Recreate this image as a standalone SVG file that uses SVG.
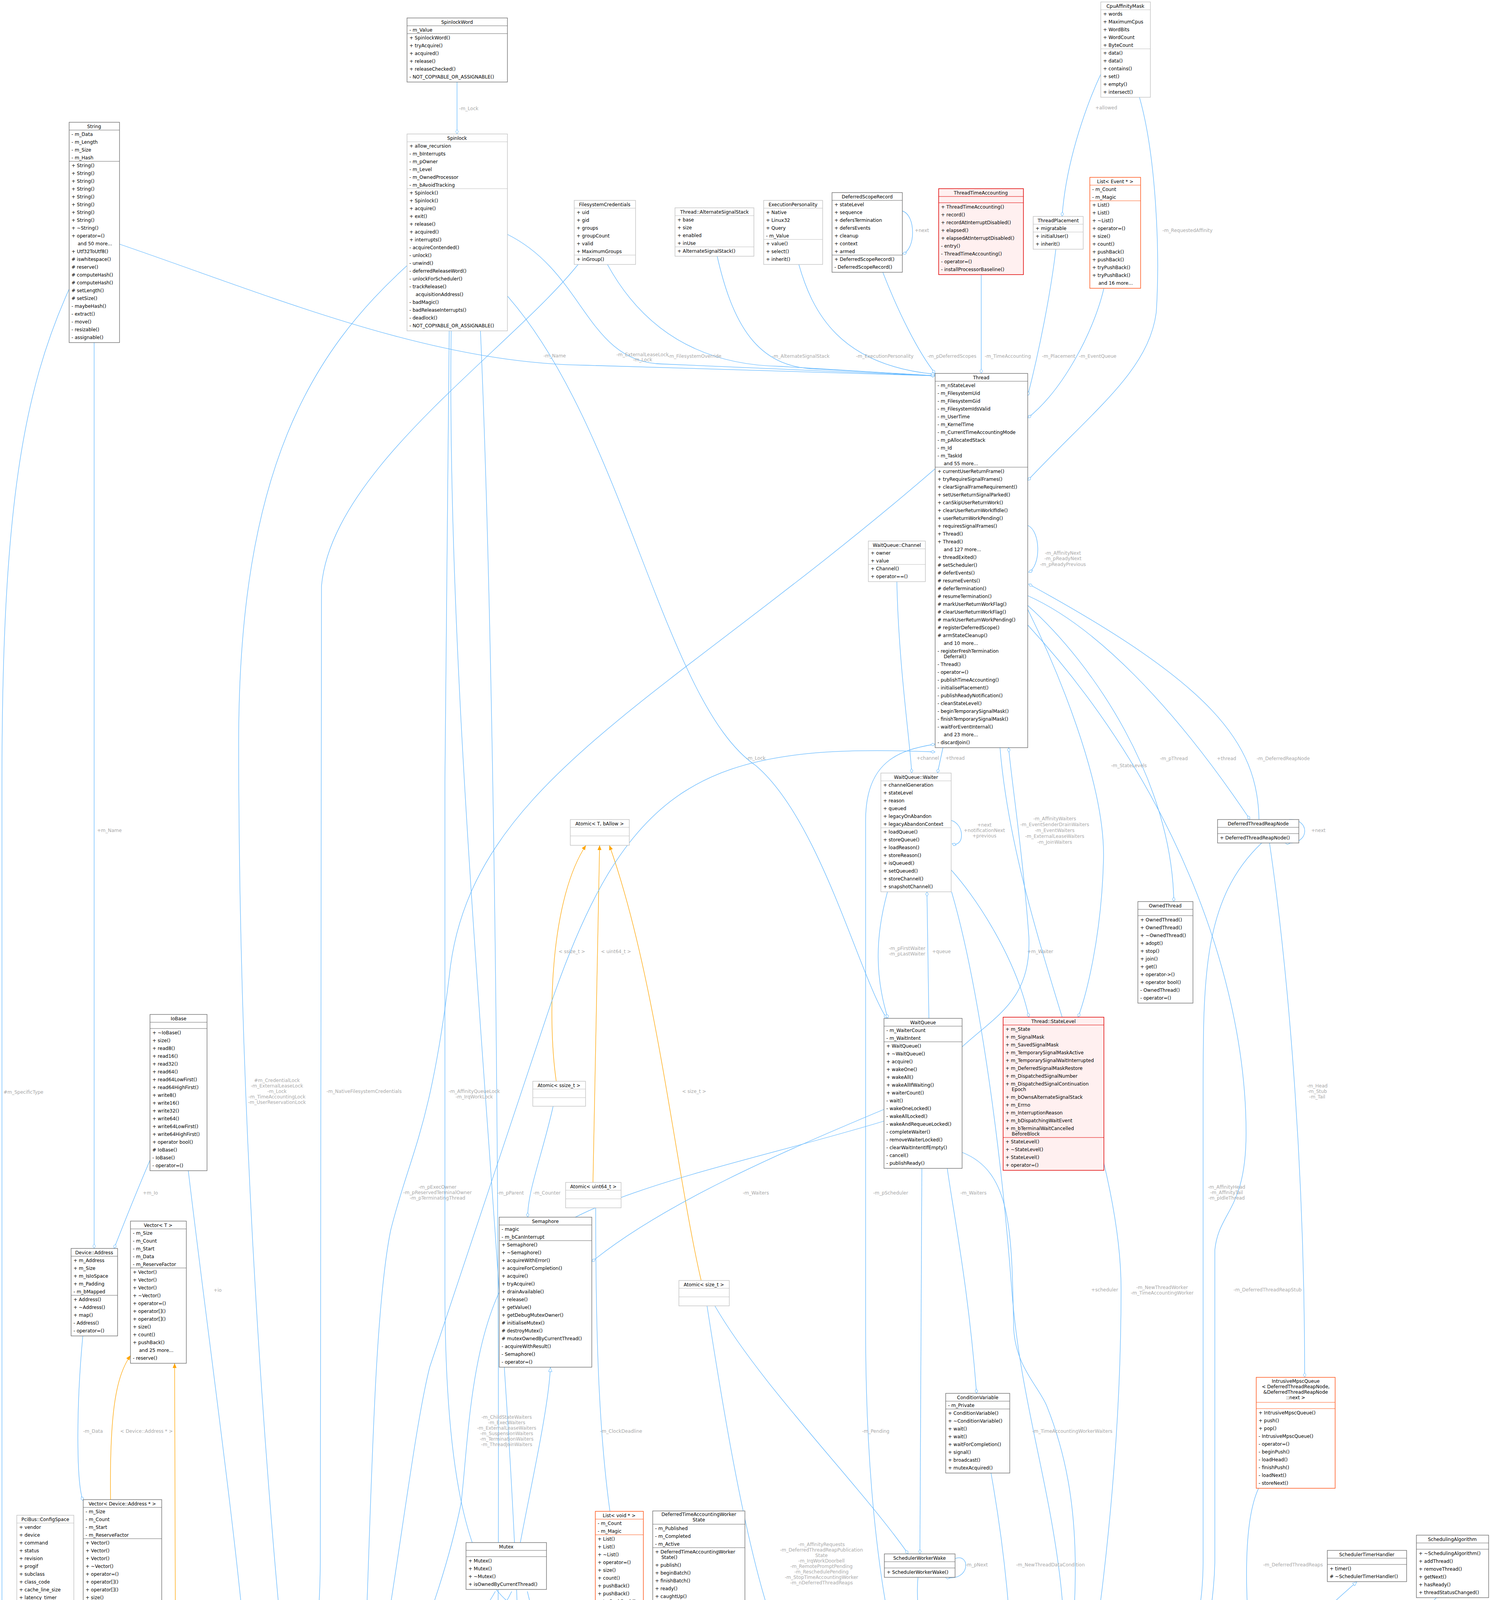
<svg xmlns="http://www.w3.org/2000/svg" width="3817" height="7125" viewBox="0 0 3817 7125">
<style>
.b{fill:#fff;stroke:#666;stroke-width:1.3}
.lb{fill:#fff;stroke:#bdbdbd;stroke-width:1.3}
.r{fill:#fff0f0;stroke:#e00000;stroke-width:1.5}
.o{fill:#fff;stroke:#ff5a1f;stroke-width:1.5}
.g{fill:#999;stroke:#666;stroke-width:1.3}
.s{stroke:#666;stroke-width:1}
.sl{stroke:#bdbdbd;stroke-width:1}
.sr{stroke:#e00000;stroke-width:1}
.so{stroke:#ff5a1f;stroke-width:1}
text{font-family:"DejaVu Sans","Liberation Sans",sans-serif;font-size:12px;fill:#000}
.h{text-anchor:middle}
.l{fill:#a8a8a8;text-anchor:middle}
.e{fill:none;stroke:#63b8ff;stroke-width:1.3}
.oe{fill:none;stroke:#ffa500;stroke-width:1.3}
</style>
<defs>
<marker id="d" viewBox="0 0 12 8" refX="12" refY="4" markerWidth="12" markerHeight="8" orient="auto" markerUnits="userSpaceOnUse"><path d="M0.5,4 L6,0.5 L11.5,4 L6,7.5z" fill="#fff" stroke="#63b8ff"/></marker>
<marker id="t" viewBox="0 0 12 10" refX="12" refY="5" markerWidth="12" markerHeight="10" orient="auto" markerUnits="userSpaceOnUse"><path d="M0.5,0.5 L11.5,5 L0.5,9.5z" fill="#fff" stroke="#63b8ff"/></marker>
<marker id="ot" viewBox="0 0 12 10" refX="12" refY="5" markerWidth="12" markerHeight="10" orient="auto" markerUnits="userSpaceOnUse"><path d="M0,0 L12,5 L0,10z" fill="#ffa500"/></marker>
</defs>
<rect width="3817" height="7125" fill="#fff"/>

<g id="connectors">
<path class="e" marker-end="url(#d)" d="M1170,210 L1170,343"/><text class="l" x="1200" y="282">-m_Lock</text>
<path class="e" marker-end="url(#d)" d="M306,625 C700,760 1100,930 1500,935 L2394,962"/><text class="l" x="1420" y="915">-m_Name</text>
<path class="e" marker-end="url(#d)" d="M177,740 C60,1000 5,1300 5,2000 L5,4100 C5,4250 30,4330 35,4360"/><text class="l" x="60" y="2800">#m_SpecificType</text>
<path class="e" marker-end="url(#d)" d="M241,877 L241,3196"/><text class="l" x="280" y="2130">+m_Name</text>
<path class="e" marker-end="url(#d)" d="M384,2970 C350,3050 310,3150 292,3196"/><text class="l" x="385" y="3058">+m_Io</text>
<path class="e" marker-end="url(#d)" d="M482,2997 C530,3400 600,3900 627,4208"/><text class="l" x="557" y="3307">+io</text>
<path class="e" marker-end="url(#d)" d="M212,3420 C195,3600 195,3800 213,3842"/><text class="l" x="238" y="3668">-m_Data</text>
<path class="oe" marker-end="url(#ot)" d="M283,3839 C280,3600 300,3520 334,3470"/><text class="l" x="375" y="3668">&lt; Device::Address * &gt;</text>
<path class="oe" marker-end="url(#ot)" d="M291,5539 C400,5450 450,5350 452,5200 L447,3490"/><text class="l" x="510" y="4258">&lt; Device * &gt;</text>
<path class="e" marker-end="url(#d)" d="M278,4183 C265,4250 255,4320 242,4360"/><text class="l" x="327" y="4258">#m_Addresses</text>
<path class="e" marker-end="url(#d)" d="M118,4139 L123,4360"/><text class="l" x="187" y="4258">#m_ConfigHeader</text>
<path class="e" marker-end="url(#d)" d="M261,4718 C295,4740 295,4830 263,4840"/><text class="l" x="360" y="4772">#m_PhysicalFunction</text><text class="l" x="360" y="4786">#m_Root</text><text class="l" x="360" y="4800">#m_pParent</text>
<path class="e" marker-end="url(#d)" d="M116,5240 C120,5330 135,5400 152,5435"/><text class="l" x="158" y="5302">-m_Data</text>
<path class="e" marker-end="url(#d)" d="M204,5435 L186,5240"/><text class="l" x="239" y="5302">#m_Children</text>
<path class="e" marker-end="url(#d)" d="M261,5040 C350,5200 420,5300 600,5322 C750,5335 820,5320 839,5345"/><text class="l" x="468" y="5302">-m_Device</text>
<path class="e" marker-end="url(#d)" d="M600,4302 C540,4600 500,5000 540,5150 C580,5290 800,5280 839,5340"/><text class="l" x="597" y="4764">-m_Common</text><text class="l" x="597" y="4778">-m_DeviceConfig</text><text class="l" x="597" y="4792">-m_Isr</text><text class="l" x="597" y="4806">-m_Notify</text>
<path class="e" marker-end="url(#d)" d="M1156,4900 C1120,5100 1050,5200 1010,5250 C1000,5300 998,5340 995,5378"/><text class="l" x="1107" y="5302">-m_Original</text>
<path class="e" marker-end="url(#d)" d="M924,5879 L925,5972"/><text class="l" x="972" y="5925">-m_Transport</text>
<path class="e" marker-end="url(#d)" d="M861,5990 C815,5960 805,5920 838,5830"/><text class="l" x="858" y="5925">-m_Queues</text>
<path class="e" marker-end="url(#d)" d="M1103,5829 C1080,5900 1040,5940 1016,6010"/><text class="l" x="1118" y="5900">-m_Available</text><text class="l" x="1118" y="5914">-m_Descriptors</text><text class="l" x="1118" y="5928">-m_Used</text>
<path class="e" marker-end="url(#d)" d="M1204,5829 C1210,6000 1210,6550 1083,6700"/><text class="l" x="1243" y="6234">-m_Events</text>
<path class="e" marker-end="url(#d)" d="M995,5690 C1050,5900 1065,6200 1065,6400 C1065,6500 1060,6550 1047,6574"/><text class="l" x="1115" y="6234">-m_Transport</text>
<path class="e" marker-end="url(#d)" d="M935,6496 L940,6574"/><text class="l" x="990" y="6530">-m_EventQueue</text><text class="l" x="990" y="6544">-m_StatusQueue</text>
<path class="e" marker-end="url(#d)" d="M1500,5661 L1488,6204"/><text class="l" x="1520" y="5925">+data</text>
<path class="e" marker-end="url(#d)" d="M1463,6264 C1440,6500 1300,6700 1083,6791"/><text class="l" x="1400" y="6534">-m_Slots</text>
<path class="e" marker-end="url(#t)" d="M731,6172 L731,5645"/>
<path class="e" marker-end="url(#t)" d="M920,6720 C850,6500 780,6400 760,6292"/>
<path class="e" marker-end="url(#d)" d="M261,5198 C330,5400 420,5800 480,6200 C540,6600 800,6800 920,6833"/><text class="l" x="440" y="5925">-m_Pci</text>
<path class="e" marker-end="url(#d)" d="M1155,847 C1140,2000 1330,3500 1333,4500 L1333,6500 C1333,6650 1200,6700 1083,6735"/><text class="l" x="1370" y="5606">-m_Lock</text>
<path class="e" marker-end="url(#d)" d="M1230,847 C1280,2000 1290,4500 1256,5270 C1250,5300 1090,5310 1075,5340 C1040,5450 1020,5700 1012,5972"/><text class="l" x="1227" y="5302">-m_Lock</text>
<path class="e" marker-end="url(#d)" d="M1480,677 C1300,900 850,1200 823,1500 L820,4000 C818,4200 795,4300 791,4332"/><text class="l" x="932" y="2798">-m_NativeFilesystemCredentials</text>
<path class="e" marker-end="url(#d)" d="M1042,680 C800,900 611,1200 611,1900 C611,3000 700,4000 735,4332"/><text class="l" x="709" y="2770">#m_CredentialLock</text><text class="l" x="709" y="2784">-m_ExternalLeaseLock</text><text class="l" x="709" y="2798">-m_Lock</text><text class="l" x="709" y="2812">-m_TimeAccountingLock</text><text class="l" x="709" y="2826">-m_UserReservationLock</text>
<path class="e" marker-end="url(#d)" d="M1299,600 C1500,700 1500,930 1700,932 L2394,962"/><text class="l" x="1645" y="912">-m_ExternalLeaseLock</text><text class="l" x="1645" y="925">-m_Lock</text>
<path class="e" marker-end="url(#d)" d="M1299,758 C1600,1100 1700,1800 1935,1960 C2100,2100 2200,2500 2270,2607"/><text class="l" x="1935" y="1945">-m_Lock</text>
<path class="e" marker-end="url(#d)" d="M1555,677 C1650,850 1800,935 2000,938 L2394,962"/><text class="l" x="1778" y="916">-m_FilesystemOverride</text>
<path class="e" marker-end="url(#d)" d="M1836,656 C1880,850 1950,945 2100,945 L2394,962"/><text class="l" x="2050" y="916">-m_AlternateSignalStack</text>
<path class="e" marker-end="url(#d)" d="M2045,677 C2080,800 2150,935 2394,958"/><text class="l" x="2265" y="916">-m_ExecutionPersonality</text>
<path class="e" marker-end="url(#d)" d="M2260,697 C2300,800 2350,900 2394,956"/><text class="l" x="2437" y="916">-m_pDeferredScopes</text>
<path class="e" marker-end="url(#d)" d="M2310,540 C2345,550 2345,640 2310,650"/><text class="l" x="2360" y="594">+next</text>
<path class="e" marker-end="url(#d)" d="M2512,703 L2512,956"/><text class="l" x="2580" y="916">-m_TimeAccounting</text>
<path class="e" marker-end="url(#d)" d="M2703,638 C2690,750 2660,900 2631,1013"/><text class="l" x="2710" y="916">-m_Placement</text>
<path class="e" marker-end="url(#d)" d="M2818,190 C2790,250 2730,400 2719,554"/><text class="l" x="2832" y="280">+allowed</text>
<path class="e" marker-end="url(#d)" d="M2917,249 C2960,400 2970,650 2960,800 C2940,950 2800,1050 2631,1230"/><text class="l" x="3040" y="594">-m_RequestedAffinity</text>
<path class="e" marker-end="url(#d)" d="M2826,738 C2800,850 2720,1000 2631,1070"/><text class="l" x="2810" y="916">-m_EventQueue</text>
<path class="e" marker-end="url(#d)" d="M2631,1345 C2665,1360 2665,1450 2633,1465"/><text class="l" x="2721" y="1420">-m_AffinityNext</text><text class="l" x="2721" y="1434">-m_pReadyNext</text><text class="l" x="2721" y="1449">-m_pReadyPrevious</text>
<path class="e" marker-end="url(#d)" d="M2631,1525 C2800,1600 3000,1800 3200,2098"/><text class="l" x="3140" y="1946">+thread</text>
<path class="e" marker-end="url(#d)" d="M3223,2098 C3220,1900 3100,1750 2633,1495"/><text class="l" x="3285" y="1946">-m_DeferredReapNode</text>
<path class="e" marker-end="url(#d)" d="M3300,2098 C3355,2095 3355,2165 3290,2158"/><text class="l" x="3375" y="2130">+next</text>
<path class="e" marker-end="url(#d)" d="M2631,1550 C2800,1700 3000,2000 3005,2308"/><text class="l" x="3005" y="1946">-m_pThread</text>
<path class="e" marker-end="url(#d)" d="M2631,1560 C2700,1700 2830,2000 2825,2200 C2820,2400 2780,2550 2760,2604"/><text class="l" x="2890" y="1964">-m_StateLevels</text>
<path class="e" marker-end="url(#d)" d="M2414,1914 L2400,1979"/><text class="l" x="2445" y="1945">+thread</text>
<path class="e" marker-end="url(#d)" d="M2296,1489 C2300,1700 2330,1900 2334,1979"/><text class="l" x="2375" y="1945">+channel</text>
<path class="e" marker-end="url(#d)" d="M2435,2100 C2470,2110 2470,2170 2437,2160"/><text class="l" x="2520" y="2116">+next</text><text class="l" x="2520" y="2130">+notificationNext</text><text class="l" x="2520" y="2144">+previous</text>
<path class="e" marker-end="url(#d)" d="M2378,2607 L2373,2283"/><text class="l" x="2410" y="2440">+queue</text>
<path class="e" marker-end="url(#d)" d="M2272,2283 C2240,2400 2240,2500 2273,2607"/><text class="l" x="2322" y="2432">-m_pFirstWaiter</text><text class="l" x="2322" y="2446">-m_pLastWaiter</text>
<path class="e" marker-end="url(#d)" d="M2435,2227 C2500,2300 2600,2450 2634,2604"/><text class="l" x="2663" y="2440">+m_Waiter</text>
<path class="e" marker-end="url(#d)" d="M2463,2680 C2550,2600 2640,2560 2634,2400 C2620,2200 2590,2000 2582,1914"/><text class="l" x="2700" y="2100">-m_AffinityWaiters</text><text class="l" x="2700" y="2115">-m_EventSenderDrainWaiters</text><text class="l" x="2700" y="2130">-m_EventWaiters</text><text class="l" x="2700" y="2145">-m_ExternalLeaseWaiters</text><text class="l" x="2700" y="2160">-m_JoinWaiters</text>
<path class="e" marker-end="url(#d)" d="M2456,4700 C2300,4400 2216,4000 2216,3400 L2216,2100 C2216,1950 2300,1920 2394,1905"/><text class="l" x="2280" y="3058">-m_pScheduler</text>
<path class="e" marker-end="url(#d)" d="M2436,2283 C2500,2500 2560,2900 2590,3300 C2620,3700 2760,3950 2722,4457"/><text class="l" x="2828" y="3306">+scheduler</text>
<path class="e" marker-end="url(#d)" d="M2560,1914 C2600,2400 2870,2900 2870,3300 C2870,3800 2800,4300 2720,4700"/><text class="l" x="2975" y="3300">-m_NewThreadWorker</text><text class="l" x="2975" y="3314">-m_TimeAccountingWorker</text>
<path class="e" marker-end="url(#d)" d="M2631,1600 C3000,2000 3190,2500 3190,2900 C3190,3100 3120,3100 3110,3200 L3110,4000 C3100,4400 2850,4700 2720,4730"/><text class="l" x="3140" y="3043">-m_AffinityHead</text><text class="l" x="3140" y="3057">-m_AffinityTail</text><text class="l" x="3140" y="3071">-m_pIdleThread</text>
<path class="e" marker-end="url(#d)" d="M3230,2158 C3080,2300 3080,2500 3080,2800 L3080,4000 C3080,4300 2900,4600 2720,4720"/><text class="l" x="3245" y="3306">-m_DeferredThreadReapStub</text>
<path class="e" marker-end="url(#d)" d="M3250,2158 C3300,2500 3340,3000 3340,3526"/><text class="l" x="3372" y="2784">-m_Head</text><text class="l" x="3372" y="2798">-m_Stub</text><text class="l" x="3372" y="2812">-m_Tail</text>
<path class="e" marker-end="url(#d)" d="M3222,3810 C3180,3900 3190,4100 3200,4200 C3200,4500 2900,4700 2720,4750"/><text class="l" x="3310" y="4010">-m_DeferredThreadReaps</text>
<path class="e" marker-end="url(#t)" d="M2720,4760 C3000,4500 3300,4200 3474,4049"/>
<path class="e" marker-end="url(#d)" d="M3677,4090 C3500,4300 3100,4550 2720,4780"/><text class="l" x="3654" y="4257">-m_pSchedulingAlgorithm</text>
<path class="e" marker-end="url(#d)" d="M2537,3771 C2560,3900 2590,4100 2594,4355"/><text class="l" x="2689" y="4010">-m_NewThreadDataCondition</text>
<path class="e" marker-end="url(#d)" d="M2425,2991 C2440,3100 2480,3300 2500,3567"/><text class="l" x="2492" y="3058">-m_Waiters</text>
<path class="e" marker-end="url(#d)" d="M2463,2950 C2590,3000 2590,3150 2595,3400 C2600,3500 2660,3550 2680,3600 C2780,3850 2760,4100 2720,4450"/><text class="l" x="2745" y="3668">-m_TimeAccountingWorkerWaiters</text>
<path class="e" marker-end="url(#d)" d="M2445,3990 C2485,3975 2485,4050 2420,4038"/><text class="l" x="2500" y="4010">-m_pNext</text>
<path class="e" marker-end="url(#d)" d="M2350,4038 C2340,4150 2380,4300 2456,4565"/><text class="l" x="2470" y="4250">-m_TimeAccountingWorkerWake</text><text class="l" x="2470" y="4265">-m_pWorkerWakeHead</text>
<path class="e" marker-end="url(#d)" d="M2360,2991 L2355,3978"/><text class="l" x="2242" y="3668">-m_Pending</text>
<path class="e" marker-end="url(#d)" d="M1830,3343 C1950,3550 2200,3800 2325,3978"/>
<path class="e" marker-end="url(#d)" d="M1810,3343 C1850,3600 1900,3900 1960,4100 C2100,4250 2300,4300 2456,4600"/><text class="l" x="2103" y="3958">-m_AffinityRequests</text><text class="l" x="2103" y="3972">-m_DeferredThreadReapPublication</text><text class="l" x="2103" y="3986">State</text><text class="l" x="2103" y="4000">-m_IrqWorkDoorbell</text><text class="l" x="2103" y="4014">-m_RemotePromptPending</text><text class="l" x="2103" y="4028">-m_ReschedulePending</text><text class="l" x="2103" y="4042">-m_StopTimeAccountingWorker</text><text class="l" x="2103" y="4056">-m_nDeferredThreadReaps</text>
<path class="e" marker-end="url(#d)" d="M1592,4153 C1600,4300 1800,4400 2456,4770"/><text class="l" x="1720" y="4250">-m_DelayedNewThreadData</text><text class="l" x="1720" y="4264">-m_NewThreadData</text>
<path class="e" marker-end="url(#d)" d="M1811,4154 C1840,4300 1900,4400 2000,4450 C2200,4550 2350,4650 2456,4750"/><text class="l" x="1934" y="4257">-m_TimeAccountingState</text>
<path class="e" marker-end="url(#d)" d="M1525,3092 C1525,3700 1550,4250 1800,4400 C2100,4600 2300,4700 2456,4780"/><text class="l" x="1590" y="3668">-m_ClockDeadline</text>
<path class="oe" marker-end="url(#ot)" d="M1424,2768 C1400,2600 1410,2300 1500,2164"/><text class="l" x="1464" y="2440">&lt; ssize_t &gt;</text>
<path class="oe" marker-end="url(#ot)" d="M1518,3027 L1535,2164"/><text class="l" x="1577" y="2440">&lt; uint64_t &gt;</text>
<path class="oe" marker-end="url(#ot)" d="M1795,3278 C1730,3000 1680,2500 1560,2164"/><text class="l" x="1777" y="2798">&lt; size_t &gt;</text>
<path class="e" marker-end="url(#d)" d="M1416,2832 C1390,2950 1350,3050 1351,3116"/><text class="l" x="1400" y="3058">-m_Counter</text>
<path class="e" marker-end="url(#t)" d="M1332,3949 C1360,3800 1405,3600 1409,3500"/>
<path class="e" marker-end="url(#d)" d="M2263,2840 C2000,2950 1700,3080 1515,3230"/><text class="l" x="1935" y="3058">-m_Waiters</text>
<path class="e" marker-end="url(#d)" d="M2263,2870 C1900,2980 1500,3050 1350,3200 C1200,3350 1200,3700 1180,3850 C1130,4100 1000,4400 923,4570"/><text class="l" x="1297" y="3632">-m_ChildStateWaiters</text><text class="l" x="1297" y="3646">-m_ExecWaiters</text><text class="l" x="1297" y="3660">-m_ExternalLeaseWaiters</text><text class="l" x="1297" y="3674">-m_SuspensionWaiters</text><text class="l" x="1297" y="3688">-m_TerminationWaiters</text><text class="l" x="1297" y="3702">-m_ThreadJoinWaiters</text>
<path class="e" marker-end="url(#d)" d="M2394,1200 C1700,1800 1200,2000 1150,2500 C1100,2900 1050,2950 1000,3150 C950,3400 950,4000 923,4496"/><text class="l" x="1120" y="3043">-m_pExecOwner</text><text class="l" x="1120" y="3057">-m_pReservedTerminalOwner</text><text class="l" x="1120" y="3071">-m_pTerminatingThread</text>
<path class="e" marker-end="url(#d)" d="M923,4520 C1000,4200 1050,3700 1100,3500 C1200,3200 1300,2900 1400,2600 C1600,2000 1800,1900 2394,1925"/><text class="l" x="1307" y="3058">-m_pParent</text>
<path class="e" marker-end="url(#d)" d="M1268,4074 C1200,4200 1100,4200 950,4200 C700,4200 500,4300 261,4561"/><text class="l" x="1003" y="4256">#m_TreeLock</text>
<path class="e" marker-end="url(#d)" d="M1310,4074 C1250,4200 1100,4300 1060,4400 C1000,4500 950,4520 923,4540"/><text class="l" x="1176" y="4256">-m_FilesystemContextLock</text>
<path class="e" marker-end="url(#d)" d="M1350,4074 C1400,4300 1600,4500 2456,4790"/><text class="l" x="1440" y="4256">-m_NewThreadDataLock</text>
<path class="e" marker-end="url(#d)" d="M923,4724 C962,4740 962,4860 925,4870"/><text class="l" x="1016" y="4786">-m_pInitProcess</text><text class="l" x="1016" y="4800">-m_pParent</text><text class="l" x="1016" y="4814">-m_pVforkOwner</text>
<path class="e" marker-end="url(#d)" d="M1150,847 L1139,2000 L1139,3300 C1139,3700 1180,4000 1300,4100 C1700,4300 2200,4500 2456,4800"/><text class="l" x="1214" y="2798">-m_AffinityQueueLock</text><text class="l" x="1214" y="2812">-m_IrqWorkLock</text>
</g>

<g id="SpinlockWord"><rect class="b" x="1042" y="46" width="257" height="164"/><text class="h" x="1170" y="61">SpinlockWord</text><line class="s" x1="1042" y1="66" x2="1299" y2="66"/><text x="1048" y="81">- m_Value</text><line class="s" x1="1042" y1="86" x2="1299" y2="86"/><text x="1048" y="101"><tspan x="1048" dy="0">+ SpinlockWord()</tspan><tspan x="1048" dy="20">+ tryAcquire()</tspan><tspan x="1048" dy="20">+ acquired()</tspan><tspan x="1048" dy="20">+ release()</tspan><tspan x="1048" dy="20">+ releaseChecked()</tspan><tspan x="1048" dy="20">- NOT_COPYABLE_OR_ASSIGNABLE()</tspan></text></g>

<g id="Spinlock"><rect class="lb" x="1042" y="343" width="257" height="504"/><text class="h" x="1170" y="358">Spinlock</text><line class="sl" x1="1042" y1="363" x2="1299" y2="363"/><text x="1048" y="378"><tspan x="1048" dy="0">+ allow_recursion</tspan><tspan x="1048" dy="20">- m_bInterrupts</tspan><tspan x="1048" dy="20">- m_pOwner</tspan><tspan x="1048" dy="20">- m_Level</tspan><tspan x="1048" dy="20">- m_OwnedProcessor</tspan><tspan x="1048" dy="20">- m_bAvoidTracking</tspan></text><line class="sl" x1="1042" y1="483" x2="1299" y2="483"/><text x="1048" y="498"><tspan x="1048" dy="0">+ Spinlock()</tspan><tspan x="1048" dy="20">+ Spinlock()</tspan><tspan x="1048" dy="20">+ acquire()</tspan><tspan x="1048" dy="20">+ exit()</tspan><tspan x="1048" dy="20">+ release()</tspan><tspan x="1048" dy="20">+ acquired()</tspan><tspan x="1048" dy="20">+ interrupts()</tspan><tspan x="1048" dy="20">- acquireContended()</tspan><tspan x="1048" dy="20">- unlock()</tspan><tspan x="1048" dy="20">- unwind()</tspan><tspan x="1048" dy="20">- deferredReleaseWord()</tspan><tspan x="1048" dy="20">- unlockForScheduler()</tspan><tspan x="1048" dy="20">- trackRelease()</tspan><tspan x="1064" dy="20">acquisitionAddress()</tspan><tspan x="1048" dy="20">- badMagic()</tspan><tspan x="1048" dy="20">- badReleaseInterrupts()</tspan><tspan x="1048" dy="20">- deadlock()</tspan><tspan x="1048" dy="20">- NOT_COPYABLE_OR_ASSIGNABLE()</tspan></text></g>

<g id="String"><rect class="b" x="177" y="313" width="129" height="564"/><text class="h" x="241" y="328">String</text><line class="s" x1="177" y1="333" x2="306" y2="333"/><text x="183" y="348"><tspan x="183" dy="0">- m_Data</tspan><tspan x="183" dy="20">- m_Length</tspan><tspan x="183" dy="20">- m_Size</tspan><tspan x="183" dy="20">- m_Hash</tspan></text><line class="s" x1="177" y1="413" x2="306" y2="413"/><text x="183" y="428"><tspan x="183" dy="0">+ String()</tspan><tspan x="183" dy="20">+ String()</tspan><tspan x="183" dy="20">+ String()</tspan><tspan x="183" dy="20">+ String()</tspan><tspan x="183" dy="20">+ String()</tspan><tspan x="183" dy="20">+ String()</tspan><tspan x="183" dy="20">+ String()</tspan><tspan x="183" dy="20">+ String()</tspan><tspan x="183" dy="20">+ ~String()</tspan><tspan x="183" dy="20">+ operator=()</tspan><tspan x="199" dy="20">and 50 more...</tspan><tspan x="183" dy="20">+ Utf32ToUtf8()</tspan><tspan x="183" dy="20"># iswhitespace()</tspan><tspan x="183" dy="20"># reserve()</tspan><tspan x="183" dy="20"># computeHash()</tspan><tspan x="183" dy="20"># computeHash()</tspan><tspan x="183" dy="20"># setLength()</tspan><tspan x="183" dy="20"># setSize()</tspan><tspan x="183" dy="20">- maybeHash()</tspan><tspan x="183" dy="20">- extract()</tspan><tspan x="183" dy="20">- move()</tspan><tspan x="183" dy="20">- resizable()</tspan><tspan x="183" dy="20">- assignable()</tspan></text></g>

<g id="FilesystemCredentials"><rect class="lb" x="1470" y="513" width="157" height="164"/><text class="h" x="1548" y="528">FilesystemCredentials</text><line class="sl" x1="1470" y1="533" x2="1627" y2="533"/><text x="1476" y="548"><tspan x="1476" dy="0">+ uid</tspan><tspan x="1476" dy="20">+ gid</tspan><tspan x="1476" dy="20">+ groups</tspan><tspan x="1476" dy="20">+ groupCount</tspan><tspan x="1476" dy="20">+ valid</tspan><tspan x="1476" dy="20">+ MaximumGroups</tspan></text><line class="sl" x1="1470" y1="653" x2="1627" y2="653"/><text x="1476" y="668">+ inGroup()</text></g>

<g id="AlternateSignalStack"><rect class="lb" x="1728" y="532" width="202" height="124"/><text class="h" x="1829" y="547">Thread::AlternateSignalStack</text><line class="sl" x1="1728" y1="552" x2="1930" y2="552"/><text x="1734" y="567"><tspan x="1734" dy="0">+ base</tspan><tspan x="1734" dy="20">+ size</tspan><tspan x="1734" dy="20">+ enabled</tspan><tspan x="1734" dy="20">+ inUse</tspan></text><line class="sl" x1="1728" y1="632" x2="1930" y2="632"/><text x="1734" y="647">+ AlternateSignalStack()</text></g>

<g id="ExecutionPersonality"><rect class="lb" x="1955" y="513" width="151" height="164"/><text class="h" x="2030" y="528">ExecutionPersonality</text><line class="sl" x1="1955" y1="533" x2="2106" y2="533"/><text x="1961" y="548"><tspan x="1961" dy="0">+ Native</tspan><tspan x="1961" dy="20">+ Linux32</tspan><tspan x="1961" dy="20">+ Query</tspan><tspan x="1961" dy="20">- m_Value</tspan></text><line class="sl" x1="1955" y1="613" x2="2106" y2="613"/><text x="1961" y="628"><tspan x="1961" dy="0">+ value()</tspan><tspan x="1961" dy="20">+ select()</tspan><tspan x="1961" dy="20">+ inherit()</tspan></text></g>

<g id="DeferredScopeRecord"><rect class="b" x="2130" y="493" width="180" height="204"/><text class="h" x="2220" y="508">DeferredScopeRecord</text><line class="s" x1="2130" y1="513" x2="2310" y2="513"/><text x="2136" y="528"><tspan x="2136" dy="0">+ stateLevel</tspan><tspan x="2136" dy="20">+ sequence</tspan><tspan x="2136" dy="20">+ defersTermination</tspan><tspan x="2136" dy="20">+ defersEvents</tspan><tspan x="2136" dy="20">+ cleanup</tspan><tspan x="2136" dy="20">+ context</tspan><tspan x="2136" dy="20">+ armed</tspan></text><line class="s" x1="2130" y1="653" x2="2310" y2="653"/><text x="2136" y="668"><tspan x="2136" dy="0">+ DeferredScopeRecord()</tspan><tspan x="2136" dy="20">- DeferredScopeRecord()</tspan></text></g>

<g id="ThreadTimeAccounting"><rect class="r" x="2403" y="483" width="217" height="220"/><text class="h" x="2511" y="498">ThreadTimeAccounting</text><line class="sr" x1="2403" y1="503" x2="2620" y2="503"/><line class="sr" x1="2403" y1="519" x2="2620" y2="519"/><text x="2409" y="534"><tspan x="2409" dy="0">+ ThreadTimeAccounting()</tspan><tspan x="2409" dy="20">+ record()</tspan><tspan x="2409" dy="20">+ recordAtInterruptDisabled()</tspan><tspan x="2409" dy="20">+ elapsed()</tspan><tspan x="2409" dy="20">+ elapsedAtInterruptDisabled()</tspan><tspan x="2409" dy="20">- entry()</tspan><tspan x="2409" dy="20">- ThreadTimeAccounting()</tspan><tspan x="2409" dy="20">- operator=()</tspan><tspan x="2409" dy="20">- installProcessorBaseline()</tspan></text></g>

<g id="ThreadPlacement"><rect class="lb" x="2645" y="554" width="128" height="84"/><text class="h" x="2709" y="569">ThreadPlacement</text><line class="sl" x1="2645" y1="574" x2="2773" y2="574"/><text x="2651" y="589">+ migratable</text><line class="sl" x1="2645" y1="594" x2="2773" y2="594"/><text x="2651" y="609"><tspan x="2651" dy="0">+ initialUser()</tspan><tspan x="2651" dy="20">+ inherit()</tspan></text></g>

<g id="ListEvent"><rect class="o" x="2790" y="454" width="130" height="284"/><text class="h" x="2855" y="469">List&lt; Event * &gt;</text><line class="so" x1="2790" y1="474" x2="2920" y2="474"/><text x="2796" y="489"><tspan x="2796" dy="0">- m_Count</tspan><tspan x="2796" dy="20">- m_Magic</tspan></text><line class="so" x1="2790" y1="514" x2="2920" y2="514"/><text x="2796" y="529"><tspan x="2796" dy="0">+ List()</tspan><tspan x="2796" dy="20">+ List()</tspan><tspan x="2796" dy="20">+ ~List()</tspan><tspan x="2796" dy="20">+ operator=()</tspan><tspan x="2796" dy="20">+ size()</tspan><tspan x="2796" dy="20">+ count()</tspan><tspan x="2796" dy="20">+ pushBack()</tspan><tspan x="2796" dy="20">+ pushBack()</tspan><tspan x="2796" dy="20">+ tryPushBack()</tspan><tspan x="2796" dy="20">+ tryPushBack()</tspan><tspan x="2812" dy="20">and 16 more...</tspan></text></g>

<g id="CpuAffinityMask"><rect class="lb" x="2818" y="5" width="127" height="244"/><text class="h" x="2881" y="20">CpuAffinityMask</text><line class="sl" x1="2818" y1="25" x2="2945" y2="25"/><text x="2824" y="40"><tspan x="2824" dy="0">+ words</tspan><tspan x="2824" dy="20">+ MaximumCpus</tspan><tspan x="2824" dy="20">+ WordBits</tspan><tspan x="2824" dy="20">+ WordCount</tspan><tspan x="2824" dy="20">+ ByteCount</tspan></text><line class="sl" x1="2818" y1="125" x2="2945" y2="125"/><text x="2824" y="140"><tspan x="2824" dy="0">+ data()</tspan><tspan x="2824" dy="20">+ data()</tspan><tspan x="2824" dy="20">+ contains()</tspan><tspan x="2824" dy="20">+ set()</tspan><tspan x="2824" dy="20">+ empty()</tspan><tspan x="2824" dy="20">+ intersect()</tspan></text></g>

<g id="Thread"><rect class="b" x="2394" y="956" width="237" height="958"/><text class="h" x="2512" y="971">Thread</text><line class="s" x1="2394" y1="976" x2="2631" y2="976"/><text x="2400" y="991"><tspan x="2400" dy="0">- m_nStateLevel</tspan><tspan x="2400" dy="20">- m_FilesystemUid</tspan><tspan x="2400" dy="20">- m_FilesystemGid</tspan><tspan x="2400" dy="20">- m_FilesystemIdsValid</tspan><tspan x="2400" dy="20">- m_UserTime</tspan><tspan x="2400" dy="20">- m_KernelTime</tspan><tspan x="2400" dy="20">- m_CurrentTimeAccountingMode</tspan><tspan x="2400" dy="20">- m_pAllocatedStack</tspan><tspan x="2400" dy="20">- m_Id</tspan><tspan x="2400" dy="20">- m_TaskId</tspan><tspan x="2416" dy="20">and 55 more...</tspan></text><line class="s" x1="2394" y1="1196" x2="2631" y2="1196"/><text x="2400" y="1211"><tspan x="2400" dy="0">+ currentUserReturnFrame()</tspan><tspan x="2400" dy="20">+ tryRequireSignalFrames()</tspan><tspan x="2400" dy="20">+ clearSignalFrameRequirement()</tspan><tspan x="2400" dy="20">+ setUserReturnSignalParked()</tspan><tspan x="2400" dy="20">+ canSkipUserReturnWork()</tspan><tspan x="2400" dy="20">+ clearUserReturnWorkIfIdle()</tspan><tspan x="2400" dy="20">+ userReturnWorkPending()</tspan><tspan x="2400" dy="20">+ requiresSignalFrames()</tspan><tspan x="2400" dy="20">+ Thread()</tspan><tspan x="2400" dy="20">+ Thread()</tspan><tspan x="2416" dy="20">and 127 more...</tspan><tspan x="2400" dy="20">+ threadExited()</tspan><tspan x="2400" dy="20"># setScheduler()</tspan><tspan x="2400" dy="20"># deferEvents()</tspan><tspan x="2400" dy="20"># resumeEvents()</tspan><tspan x="2400" dy="20"># deferTermination()</tspan><tspan x="2400" dy="20"># resumeTermination()</tspan><tspan x="2400" dy="20"># markUserReturnWorkFlag()</tspan><tspan x="2400" dy="20"># clearUserReturnWorkFlag()</tspan><tspan x="2400" dy="20"># markUserReturnWorkPending()</tspan><tspan x="2400" dy="20"># registerDeferredScope()</tspan><tspan x="2400" dy="20"># armStateCleanup()</tspan><tspan x="2416" dy="20">and 10 more...</tspan><tspan x="2400" dy="20">- registerFreshTermination</tspan><tspan x="2416" dy="14">Deferral()</tspan><tspan x="2400" dy="20">- Thread()</tspan><tspan x="2400" dy="20">- operator=()</tspan><tspan x="2400" dy="20">- publishTimeAccounting()</tspan><tspan x="2400" dy="20">- initialisePlacement()</tspan><tspan x="2400" dy="20">- publishReadyNotification()</tspan><tspan x="2400" dy="20">- cleanStateLevel()</tspan><tspan x="2400" dy="20">- beginTemporarySignalMask()</tspan><tspan x="2400" dy="20">- finishTemporarySignalMask()</tspan><tspan x="2400" dy="20">- waitForEventInternal()</tspan><tspan x="2416" dy="20">and 23 more...</tspan><tspan x="2400" dy="20">- discardJoin()</tspan></text></g>

<g id="WaitQueueChannel"><rect class="lb" x="2223" y="1385" width="146" height="104"/><text class="h" x="2296" y="1400">WaitQueue::Channel</text><line class="sl" x1="2223" y1="1405" x2="2369" y2="1405"/><text x="2229" y="1420"><tspan x="2229" dy="0">+ owner</tspan><tspan x="2229" dy="20">+ value</tspan></text><line class="sl" x1="2223" y1="1445" x2="2369" y2="1445"/><text x="2229" y="1460"><tspan x="2229" dy="0">+ Channel()</tspan><tspan x="2229" dy="20">+ operator==()</tspan></text></g>

<g id="WaitQueueWaiter"><rect class="lb" x="2255" y="1979" width="180" height="304"/><text class="h" x="2345" y="1994">WaitQueue::Waiter</text><line class="sl" x1="2255" y1="1999" x2="2435" y2="1999"/><text x="2261" y="2014"><tspan x="2261" dy="0">+ channelGeneration</tspan><tspan x="2261" dy="20">+ stateLevel</tspan><tspan x="2261" dy="20">+ reason</tspan><tspan x="2261" dy="20">+ queued</tspan><tspan x="2261" dy="20">+ legacyOnAbandon</tspan><tspan x="2261" dy="20">+ legacyAbandonContext</tspan></text><line class="sl" x1="2255" y1="2119" x2="2435" y2="2119"/><text x="2261" y="2134"><tspan x="2261" dy="0">+ loadQueue()</tspan><tspan x="2261" dy="20">+ storeQueue()</tspan><tspan x="2261" dy="20">+ loadReason()</tspan><tspan x="2261" dy="20">+ storeReason()</tspan><tspan x="2261" dy="20">+ isQueued()</tspan><tspan x="2261" dy="20">+ setQueued()</tspan><tspan x="2261" dy="20">+ storeChannel()</tspan><tspan x="2261" dy="20">+ snapshotChannel()</tspan></text></g>

<g id="WaitQueue"><rect class="b" x="2263" y="2607" width="200" height="384"/><text class="h" x="2363" y="2622">WaitQueue</text><line class="s" x1="2263" y1="2627" x2="2463" y2="2627"/><text x="2269" y="2642"><tspan x="2269" dy="0">- m_WaiterCount</tspan><tspan x="2269" dy="20">- m_WaitIntent</tspan></text><line class="s" x1="2263" y1="2667" x2="2463" y2="2667"/><text x="2269" y="2682"><tspan x="2269" dy="0">+ WaitQueue()</tspan><tspan x="2269" dy="20">+ ~WaitQueue()</tspan><tspan x="2269" dy="20">+ acquire()</tspan><tspan x="2269" dy="20">+ wakeOne()</tspan><tspan x="2269" dy="20">+ wakeAll()</tspan><tspan x="2269" dy="20">+ wakeAllIfWaiting()</tspan><tspan x="2269" dy="20">+ waiterCount()</tspan><tspan x="2269" dy="20">- wait()</tspan><tspan x="2269" dy="20">- wakeOneLocked()</tspan><tspan x="2269" dy="20">- wakeAllLocked()</tspan><tspan x="2269" dy="20">- wakeAndRequeueLocked()</tspan><tspan x="2269" dy="20">- completeWaiter()</tspan><tspan x="2269" dy="20">- removeWaiterLocked()</tspan><tspan x="2269" dy="20">- clearWaitIntentIfEmpty()</tspan><tspan x="2269" dy="20">- cancel()</tspan><tspan x="2269" dy="20">- publishReady()</tspan></text></g>

<g id="ThreadStateLevel"><rect class="r" x="2568" y="2604" width="258" height="392"/><text class="h" x="2697" y="2619">Thread::StateLevel</text><line class="sr" x1="2568" y1="2624" x2="2826" y2="2624"/><text x="2574" y="2639"><tspan x="2574" dy="0">+ m_State</tspan><tspan x="2574" dy="20">+ m_SignalMask</tspan><tspan x="2574" dy="20">+ m_SavedSignalMask</tspan><tspan x="2574" dy="20">+ m_TemporarySignalMaskActive</tspan><tspan x="2574" dy="20">+ m_TemporarySignalWaitInterrupted</tspan><tspan x="2574" dy="20">+ m_DeferredSignalMaskRestore</tspan><tspan x="2574" dy="20">+ m_DispatchedSignalNumber</tspan><tspan x="2574" dy="20">+ m_DispatchedSignalContinuation</tspan><tspan x="2590" dy="14">Epoch</tspan><tspan x="2574" dy="20">+ m_bOwnsAlternateSignalStack</tspan><tspan x="2574" dy="20">+ m_Errno</tspan><tspan x="2574" dy="20">+ m_InterruptionReason</tspan><tspan x="2574" dy="20">+ m_bDispatchingWaitEvent</tspan><tspan x="2574" dy="20">+ m_bTerminalWaitCancelled</tspan><tspan x="2590" dy="14">BeforeBlock</tspan></text><line class="sr" x1="2568" y1="2912" x2="2826" y2="2912"/><text x="2574" y="2927"><tspan x="2574" dy="0">+ StateLevel()</tspan><tspan x="2574" dy="20">+ ~StateLevel()</tspan><tspan x="2574" dy="20">+ StateLevel()</tspan><tspan x="2574" dy="20">+ operator=()</tspan></text></g>

<g id="OwnedThread"><rect class="b" x="2913" y="2308" width="141" height="260"/><text class="h" x="2983" y="2323">OwnedThread</text><line class="s" x1="2913" y1="2328" x2="3054" y2="2328"/><line class="s" x1="2913" y1="2344" x2="3054" y2="2344"/><text x="2919" y="2359"><tspan x="2919" dy="0">+ OwnedThread()</tspan><tspan x="2919" dy="20">+ OwnedThread()</tspan><tspan x="2919" dy="20">+ ~OwnedThread()</tspan><tspan x="2919" dy="20">+ adopt()</tspan><tspan x="2919" dy="20">+ stop()</tspan><tspan x="2919" dy="20">+ join()</tspan><tspan x="2919" dy="20">+ get()</tspan><tspan x="2919" dy="20">+ operator-&gt;()</tspan><tspan x="2919" dy="20">+ operator bool()</tspan><tspan x="2919" dy="20">- OwnedThread()</tspan><tspan x="2919" dy="20">- operator=()</tspan></text></g>

<g id="DeferredThreadReapNode"><rect class="b" x="3117" y="2098" width="208" height="60"/><text class="h" x="3221" y="2113">DeferredThreadReapNode</text><line class="s" x1="3117" y1="2118" x2="3325" y2="2118"/><line class="s" x1="3117" y1="2134" x2="3325" y2="2134"/><text x="3123" y="2149">+ DeferredThreadReapNode()</text></g>

<g id="IntrusiveMpscQueue"><rect class="o" x="3216" y="3526" width="202" height="284"/><text class="h" x="3317" y="3540"><tspan x="3317" dy="0">IntrusiveMpscQueue</tspan><tspan x="3317" dy="14">&lt; DeferredThreadReapNode,</tspan><tspan x="3317" dy="14">&amp;DeferredThreadReapNode</tspan><tspan x="3317" dy="14">::next &gt;</tspan></text><line class="so" x1="3216" y1="3590" x2="3418" y2="3590"/><line class="so" x1="3216" y1="3606" x2="3418" y2="3606"/><text x="3222" y="3621"><tspan x="3222" dy="0">+ IntrusiveMpscQueue()</tspan><tspan x="3222" dy="20">+ push()</tspan><tspan x="3222" dy="20">+ pop()</tspan><tspan x="3222" dy="20">- IntrusiveMpscQueue()</tspan><tspan x="3222" dy="20">- operator=()</tspan><tspan x="3222" dy="20">- beginPush()</tspan><tspan x="3222" dy="20">- loadHead()</tspan><tspan x="3222" dy="20">- finishPush()</tspan><tspan x="3222" dy="20">- loadNext()</tspan><tspan x="3222" dy="20">- storeNext()</tspan></text></g>

<g id="ConditionVariable"><rect class="b" x="2421" y="3567" width="164" height="204"/><text class="h" x="2503" y="3582">ConditionVariable</text><line class="s" x1="2421" y1="3587" x2="2585" y2="3587"/><text x="2427" y="3602">- m_Private</text><line class="s" x1="2421" y1="3607" x2="2585" y2="3607"/><text x="2427" y="3622"><tspan x="2427" dy="0">+ ConditionVariable()</tspan><tspan x="2427" dy="20">+ ~ConditionVariable()</tspan><tspan x="2427" dy="20">+ wait()</tspan><tspan x="2427" dy="20">+ wait()</tspan><tspan x="2427" dy="20">+ waitForCompletion()</tspan><tspan x="2427" dy="20">+ signal()</tspan><tspan x="2427" dy="20">+ broadcast()</tspan><tspan x="2427" dy="20">+ mutexAcquired()</tspan></text></g>

<g id="SchedulerWorkerWake"><rect class="b" x="2264" y="3978" width="181" height="60"/><text class="h" x="2354" y="3993">SchedulerWorkerWake</text><line class="s" x1="2264" y1="3998" x2="2445" y2="3998"/><line class="s" x1="2264" y1="4014" x2="2445" y2="4014"/><text x="2270" y="4029">+ SchedulerWorkerWake()</text></g>

<g id="SchedulerTimerHandler"><rect class="b" x="3398" y="3969" width="203" height="80"/><text class="h" x="3499" y="3984">SchedulerTimerHandler</text><line class="s" x1="3398" y1="3989" x2="3601" y2="3989"/><line class="s" x1="3398" y1="4005" x2="3601" y2="4005"/><text x="3404" y="4020"><tspan x="3404" dy="0">+ timer()</tspan><tspan x="3404" dy="20"># ~SchedulerTimerHandler()</tspan></text></g>

<g id="SchedulingAlgorithm"><rect class="b" x="3626" y="3930" width="185" height="160"/><text class="h" x="3718" y="3945">SchedulingAlgorithm</text><line class="s" x1="3626" y1="3950" x2="3811" y2="3950"/><line class="s" x1="3626" y1="3966" x2="3811" y2="3966"/><text x="3632" y="3981"><tspan x="3632" dy="0">+ ~SchedulingAlgorithm()</tspan><tspan x="3632" dy="20">+ addThread()</tspan><tspan x="3632" dy="20">+ removeThread()</tspan><tspan x="3632" dy="20">+ getNext()</tspan><tspan x="3632" dy="20">+ hasReady()</tspan><tspan x="3632" dy="20">+ threadStatusChanged()</tspan></text></g>

<g id="PerProcessorScheduler"><rect class="lb" x="2456" y="4355" width="264" height="892"/><text class="h" x="2588" y="4370">PerProcessorScheduler</text><line class="sl" x1="2456" y1="4375" x2="2720" y2="4375"/><text x="2462" y="4390"><tspan x="2462" dy="0">- m_NewThreadAdmissionOpen</tspan><tspan x="2462" dy="20">- m_StopNewThreadWorker</tspan><tspan x="2462" dy="20">- m_AffinityAdmissionOpen</tspan><tspan x="2462" dy="20">- m_LogicalCpu</tspan><tspan x="2462" dy="20">- m_PhysicalCpu</tspan><tspan x="2462" dy="20">- m_NominalQuantumNs</tspan><tspan x="2462" dy="20">- m_QuantumDeadline</tspan><tspan x="2462" dy="20">- m_NextLoadSampleDeadline</tspan><tspan x="2462" dy="20">- m_OneShotTimer</tspan><tspan x="2462" dy="20">- m_IdleWakeRequested</tspan><tspan x="2462" dy="20">- m_SchedulerTickCounter</tspan><tspan x="2462" dy="20">- m_UserReturnDiagnosticSequence</tspan><tspan x="2462" dy="20">- DeferredReapPublicationClosed</tspan><tspan x="2462" dy="20">- DeferredReapPublicationCountMask</tspan></text><line class="sl" x1="2456" y1="4655" x2="2720" y2="4655"/><text x="2462" y="4670"><tspan x="2462" dy="0">+ PerProcessorScheduler()</tspan><tspan x="2462" dy="20">+ ~PerProcessorScheduler()</tspan><tspan x="2462" dy="20">+ initialise()</tspan><tspan x="2462" dy="20">+ checkEventState()</tspan><tspan x="2462" dy="20">+ eventHandlerReturned()</tspan><tspan x="2462" dy="20">+ addThread()</tspan><tspan x="2462" dy="20">+ addThread()</tspan><tspan x="2462" dy="20">+ commitCurrentThreadExit()</tspan><tspan x="2462" dy="20">+ abandonCurrentThreadStack()</tspan><tspan x="2462" dy="20">+ requestCurrentThreadExit</tspan><tspan x="2478" dy="14">ToIdle()</tspan><tspan x="2478" dy="20">and 22 more...</tspan><tspan x="2462" dy="20">+ stackDiscardCount()</tspan><tspan x="2462" dy="20">+ stackDiscardCount()</tspan><tspan x="2462" dy="20">- killCurrentThread()</tspan><tspan x="2462" dy="20">- schedule()</tspan><tspan x="2462" dy="20">- scheduleWithInterruptState()</tspan><tspan x="2462" dy="20">- blockCurrent()</tspan><tspan x="2462" dy="20">- publishReadyFromWait()</tspan><tspan x="2462" dy="20">- finishCurrentThreadExit()</tspan><tspan x="2462" dy="20">- serviceDeferredSubsystem</tspan><tspan x="2478" dy="14">Exception()</tspan><tspan x="2462" dy="20">- checkEventState()</tspan><tspan x="2462" dy="20">- checkEventState()</tspan><tspan x="2462" dy="20">- PerProcessorScheduler()</tspan><tspan x="2478" dy="20">and 16 more...</tspan><tspan x="2462" dy="20">- deleteThreadThenRestoreState()</tspan><tspan x="2462" dy="20">- deleteThread()</tspan><tspan x="2462" dy="20">- timeAccountingWorkerEntry()</tspan><tspan x="2462" dy="20">- processorAddThread()</tspan></text></g>

<g id="Semaphore"><rect class="b" x="1278" y="3116" width="237" height="384"/><text class="h" x="1396" y="3131">Semaphore</text><line class="s" x1="1278" y1="3136" x2="1515" y2="3136"/><text x="1284" y="3151"><tspan x="1284" dy="0">- magic</tspan><tspan x="1284" dy="20">- m_bCanInterrupt</tspan></text><line class="s" x1="1278" y1="3176" x2="1515" y2="3176"/><text x="1284" y="3191"><tspan x="1284" dy="0">+ Semaphore()</tspan><tspan x="1284" dy="20">+ ~Semaphore()</tspan><tspan x="1284" dy="20">+ acquireWithError()</tspan><tspan x="1284" dy="20">+ acquireForCompletion()</tspan><tspan x="1284" dy="20">+ acquire()</tspan><tspan x="1284" dy="20">+ tryAcquire()</tspan><tspan x="1284" dy="20">+ drainAvailable()</tspan><tspan x="1284" dy="20">+ release()</tspan><tspan x="1284" dy="20">+ getValue()</tspan><tspan x="1284" dy="20">+ getDebugMutexOwner()</tspan><tspan x="1284" dy="20"># initialiseMutex()</tspan><tspan x="1284" dy="20"># destroyMutex()</tspan><tspan x="1284" dy="20"># mutexOwnedByCurrentThread()</tspan><tspan x="1284" dy="20">- acquireWithResult()</tspan><tspan x="1284" dy="20">- Semaphore()</tspan><tspan x="1284" dy="20">- operator=()</tspan></text></g>

<g id="Mutex"><rect class="b" x="1193" y="3949" width="206" height="120"/><text class="h" x="1296" y="3964">Mutex</text><line class="s" x1="1193" y1="3969" x2="1399" y2="3969"/><line class="s" x1="1193" y1="3985" x2="1399" y2="3985"/><text x="1199" y="4000"><tspan x="1199" dy="0">+ Mutex()</tspan><tspan x="1199" dy="20">+ Mutex()</tspan><tspan x="1199" dy="20">+ ~Mutex()</tspan><tspan x="1199" dy="20">+ isOwnedByCurrentThread()</tspan></text></g>

<g id="AtomicT"><rect class="lb" x="1460" y="2098" width="151" height="66"/><text class="h" x="1535" y="2113">Atomic&lt; T, bAllow &gt;</text><line class="sl" x1="1460" y1="2118" x2="1611" y2="2118"/><line class="sl" x1="1460" y1="2140" x2="1611" y2="2140"/></g>
<g id="AtomicSsize"><rect class="lb" x="1364" y="2768" width="135" height="64"/><text class="h" x="1431" y="2783">Atomic&lt; ssize_t &gt;</text><line class="sl" x1="1364" y1="2788" x2="1499" y2="2788"/><line class="sl" x1="1364" y1="2810" x2="1499" y2="2810"/></g>
<g id="AtomicU64"><rect class="lb" x="1448" y="3027" width="142" height="65"/><text class="h" x="1519" y="3042">Atomic&lt; uint64_t &gt;</text><line class="sl" x1="1448" y1="3047" x2="1590" y2="3047"/><line class="sl" x1="1448" y1="3069" x2="1590" y2="3069"/></g>
<g id="AtomicSize"><rect class="lb" x="1738" y="3278" width="129" height="65"/><text class="h" x="1802" y="3293">Atomic&lt; size_t &gt;</text><line class="sl" x1="1738" y1="3298" x2="1867" y2="3298"/><line class="sl" x1="1738" y1="3320" x2="1867" y2="3320"/></g>

<g id="ListVoid"><rect class="o" x="1524" y="3869" width="123" height="284"/><text class="h" x="1585" y="3884">List&lt; void * &gt;</text><line class="so" x1="1524" y1="3889" x2="1647" y2="3889"/><text x="1530" y="3904"><tspan x="1530" dy="0">- m_Count</tspan><tspan x="1530" dy="20">- m_Magic</tspan></text><line class="so" x1="1524" y1="3929" x2="1647" y2="3929"/><text x="1530" y="3944"><tspan x="1530" dy="0">+ List()</tspan><tspan x="1530" dy="20">+ List()</tspan><tspan x="1530" dy="20">+ ~List()</tspan><tspan x="1530" dy="20">+ operator=()</tspan><tspan x="1530" dy="20">+ size()</tspan><tspan x="1530" dy="20">+ count()</tspan><tspan x="1530" dy="20">+ pushBack()</tspan><tspan x="1530" dy="20">+ pushBack()</tspan><tspan x="1530" dy="20">+ tryPushBack()</tspan><tspan x="1530" dy="20">+ tryPushBack()</tspan><tspan x="1546" dy="20">and 16 more...</tspan></text></g>

<g id="DeferredTimeAccountingWorkerState"><rect class="b" x="1671" y="3868" width="236" height="286"/><text class="h" x="1789" y="3881"><tspan x="1789" dy="0">DeferredTimeAccountingWorker</tspan><tspan x="1789" dy="14">State</tspan></text><line class="s" x1="1671" y1="3902" x2="1907" y2="3902"/><text x="1677" y="3917"><tspan x="1677" dy="0">- m_Published</tspan><tspan x="1677" dy="20">- m_Completed</tspan><tspan x="1677" dy="20">- m_Active</tspan></text><line class="s" x1="1671" y1="3962" x2="1907" y2="3962"/><text x="1677" y="3977"><tspan x="1677" dy="0">+ DeferredTimeAccountingWorker</tspan><tspan x="1693" dy="14">State()</tspan><tspan x="1677" dy="20">+ publish()</tspan><tspan x="1677" dy="20">+ beginBatch()</tspan><tspan x="1677" dy="20">+ finishBatch()</tspan><tspan x="1677" dy="20">+ ready()</tspan><tspan x="1677" dy="20">+ caughtUp()</tspan><tspan x="1677" dy="20">- DeferredTimeAccountingWorker</tspan><tspan x="1693" dy="14">State()</tspan><tspan x="1677" dy="20">- operator=()</tspan></text></g>

<g id="IoBase"><rect class="b" x="384" y="2597" width="146" height="400"/><text class="h" x="457" y="2612">IoBase</text><line class="s" x1="384" y1="2617" x2="530" y2="2617"/><line class="s" x1="384" y1="2633" x2="530" y2="2633"/><text x="390" y="2648"><tspan x="390" dy="0">+ ~IoBase()</tspan><tspan x="390" dy="20">+ size()</tspan><tspan x="390" dy="20">+ read8()</tspan><tspan x="390" dy="20">+ read16()</tspan><tspan x="390" dy="20">+ read32()</tspan><tspan x="390" dy="20">+ read64()</tspan><tspan x="390" dy="20">+ read64LowFirst()</tspan><tspan x="390" dy="20">+ read64HighFirst()</tspan><tspan x="390" dy="20">+ write8()</tspan><tspan x="390" dy="20">+ write16()</tspan><tspan x="390" dy="20">+ write32()</tspan><tspan x="390" dy="20">+ write64()</tspan><tspan x="390" dy="20">+ write64LowFirst()</tspan><tspan x="390" dy="20">+ write64HighFirst()</tspan><tspan x="390" dy="20">+ operator bool()</tspan><tspan x="390" dy="20"># IoBase()</tspan><tspan x="390" dy="20">- IoBase()</tspan><tspan x="390" dy="20">- operator=()</tspan></text></g>

<g id="VectorT"><rect class="b" x="334" y="3126" width="143" height="364"/><text class="h" x="405" y="3141">Vector&lt; T &gt;</text><line class="s" x1="334" y1="3146" x2="477" y2="3146"/><text x="340" y="3161"><tspan x="340" dy="0">- m_Size</tspan><tspan x="340" dy="20">- m_Count</tspan><tspan x="340" dy="20">- m_Start</tspan><tspan x="340" dy="20">- m_Data</tspan><tspan x="340" dy="20">- m_ReserveFactor</tspan></text><line class="s" x1="334" y1="3246" x2="477" y2="3246"/><text x="340" y="3261"><tspan x="340" dy="0">+ Vector()</tspan><tspan x="340" dy="20">+ Vector()</tspan><tspan x="340" dy="20">+ Vector()</tspan><tspan x="340" dy="20">+ ~Vector()</tspan><tspan x="340" dy="20">+ operator=()</tspan><tspan x="340" dy="20">+ operator[]()</tspan><tspan x="340" dy="20">+ operator[]()</tspan><tspan x="340" dy="20">+ size()</tspan><tspan x="340" dy="20">+ count()</tspan><tspan x="340" dy="20">+ pushBack()</tspan><tspan x="356" dy="20">and 25 more...</tspan><tspan x="340" dy="20">- reserve()</tspan></text></g>

<g id="DeviceAddress"><rect class="b" x="182" y="3196" width="119" height="224"/><text class="h" x="241" y="3211">Device::Address</text><line class="s" x1="182" y1="3216" x2="301" y2="3216"/><text x="188" y="3231"><tspan x="188" dy="0">+ m_Address</tspan><tspan x="188" dy="20">+ m_Size</tspan><tspan x="188" dy="20">+ m_IsIoSpace</tspan><tspan x="188" dy="20">+ m_Padding</tspan><tspan x="188" dy="20">- m_bMapped</tspan></text><line class="s" x1="182" y1="3316" x2="301" y2="3316"/><text x="188" y="3331"><tspan x="188" dy="0">+ Address()</tspan><tspan x="188" dy="20">+ ~Address()</tspan><tspan x="188" dy="20">+ map()</tspan><tspan x="188" dy="20">- Address()</tspan><tspan x="188" dy="20">- operator=()</tspan></text></g>

<g id="VectorDeviceAddress"><rect class="b" x="213" y="3839" width="201" height="344"/><text class="h" x="313" y="3854">Vector&lt; Device::Address * &gt;</text><line class="s" x1="213" y1="3859" x2="414" y2="3859"/><text x="219" y="3874"><tspan x="219" dy="0">- m_Size</tspan><tspan x="219" dy="20">- m_Count</tspan><tspan x="219" dy="20">- m_Start</tspan><tspan x="219" dy="20">- m_ReserveFactor</tspan></text><line class="s" x1="213" y1="3939" x2="414" y2="3939"/><text x="219" y="3954"><tspan x="219" dy="0">+ Vector()</tspan><tspan x="219" dy="20">+ Vector()</tspan><tspan x="219" dy="20">+ Vector()</tspan><tspan x="219" dy="20">+ ~Vector()</tspan><tspan x="219" dy="20">+ operator=()</tspan><tspan x="219" dy="20">+ operator[]()</tspan><tspan x="219" dy="20">+ operator[]()</tspan><tspan x="219" dy="20">+ size()</tspan><tspan x="219" dy="20">+ count()</tspan><tspan x="219" dy="20">+ pushBack()</tspan><tspan x="235" dy="20">and 25 more...</tspan><tspan x="219" dy="20">- reserve()</tspan></text></g>

<g id="PciBusConfigSpace"><rect class="lb" x="43" y="3879" width="146" height="260"/><text class="h" x="116" y="3894">PciBus::ConfigSpace</text><line class="sl" x1="43" y1="3899" x2="189" y2="3899"/><text x="49" y="3914"><tspan x="49" dy="0">+ vendor</tspan><tspan x="49" dy="20">+ device</tspan><tspan x="49" dy="20">+ command</tspan><tspan x="49" dy="20">+ status</tspan><tspan x="49" dy="20">+ revision</tspan><tspan x="49" dy="20">+ progif</tspan><tspan x="49" dy="20">+ subclass</tspan><tspan x="49" dy="20">+ class_code</tspan><tspan x="49" dy="20">+ cache_line_size</tspan><tspan x="49" dy="20">+ latency_timer</tspan><tspan x="65" dy="20">and 13 more...</tspan></text><line class="sl" x1="43" y1="4119" x2="189" y2="4119"/></g>

<g id="Device"><rect class="b" x="5" y="4360" width="256" height="880"/><text class="h" x="133" y="4375">Device</text><line class="s" x1="5" y1="4380" x2="261" y2="4380"/><text x="11" y="4395"><tspan x="11" dy="0"># m_VirtualFunctionIndex</tspan><tspan x="11" dy="20"># m_InterruptNumber</tspan><tspan x="11" dy="20"># m_ClassCode</tspan><tspan x="11" dy="20"># m_SubclassCode</tspan><tspan x="11" dy="20"># m_VendorId</tspan><tspan x="11" dy="20"># m_DeviceId</tspan><tspan x="11" dy="20"># m_ProgInterface</tspan><tspan x="11" dy="20"># m_PciBusPos</tspan><tspan x="11" dy="20"># m_PciDevicePos</tspan><tspan x="11" dy="20"># m_PciFunctionNum</tspan></text><line class="s" x1="5" y1="4580" x2="261" y2="4580"/><text x="11" y="4595"><tspan x="11" dy="0">+ Device()</tspan><tspan x="11" dy="20">+ Device()</tspan><tspan x="11" dy="20">+ ~Device()</tspan><tspan x="11" dy="20">+ getParent()</tspan><tspan x="11" dy="20">+ setParent()</tspan><tspan x="11" dy="20">+ getName()</tspan><tspan x="11" dy="20">+ getType()</tspan><tspan x="11" dy="20">+ getSpecificType()</tspan><tspan x="11" dy="20">+ setSpecificType()</tspan><tspan x="11" dy="20">+ setPciPosition()</tspan><tspan x="27" dy="20">and 24 more...</tspan><tspan x="11" dy="20">+ treeLockHeldByCurrentThread()</tspan><tspan x="11" dy="20">+ foreach()</tspan><tspan x="11" dy="20">+ foreach()</tspan><tspan x="11" dy="20">+ addToRoot()</tspan><tspan x="11" dy="20">+ searchByVendorId()</tspan><tspan x="11" dy="20">+ searchByVendorIdAndDeviceId()</tspan><tspan x="11" dy="20">+ searchByClass()</tspan><tspan x="11" dy="20">+ searchByClassAndSubclass()</tspan><tspan x="11" dy="20">+ searchByClassSubclassAnd</tspan><tspan x="27" dy="14">ProgInterface()</tspan><tspan x="11" dy="20"># NOT_COPYABLE_OR_ASSIGNABLE()</tspan><tspan x="11" dy="20"># root()</tspan><tspan x="11" dy="20">- removeIoMappings()</tspan><tspan x="11" dy="20">- foreachInternal()</tspan><tspan x="11" dy="20">- foreachInternal()</tspan><tspan x="11" dy="20">- searchByVendorIdInternal()</tspan><tspan x="11" dy="20">- searchByVendorIdAndDevice</tspan><tspan x="27" dy="14">IdInternal()</tspan><tspan x="11" dy="20">- searchByClassInternal()</tspan><tspan x="11" dy="20">- searchByClassAndSubclass</tspan><tspan x="27" dy="14">Internal()</tspan><tspan x="11" dy="20">- searchByClassSubclassAnd</tspan><tspan x="27" dy="14">ProgInterfaceInternal()</tspan></text></g>

<g id="Process"><rect class="r" x="666" y="4332" width="257" height="938"/><text class="h" x="794" y="4347">Process</text><line class="sr" x1="666" y1="4352" x2="923" y2="4352"/><text x="672" y="4367"><tspan x="672" dy="0">- m_Id</tspan><tspan x="672" dy="20">- m_UserspaceId</tspan><tspan x="672" dy="20">- m_ExitStatus</tspan><tspan x="672" dy="20">- m_bFilesystemContextReady</tspan><tspan x="672" dy="20">- m_UserReservationGeneration</tspan><tspan x="672" dy="20">- m_ContinuationEpoch</tspan><tspan x="672" dy="20">- m_nThreadJoinOperations</tspan><tspan x="672" dy="20">- m_bThreadJoinAdmissionClosed</tspan><tspan x="672" dy="20">- m_nExternalLeases</tspan><tspan x="672" dy="20">- m_bExternalLeaseAdmission</tspan><tspan x="688" dy="14">Closed</tspan><tspan x="688" dy="20">and 19 more...</tspan></text><line class="sr" x1="666" y1="4586" x2="923" y2="4586"/><text x="672" y="4601"><tspan x="672" dy="0">+ Process()</tspan><tspan x="672" dy="20">+ Process()</tspan><tspan x="672" dy="20">+ ~Process()</tspan><tspan x="672" dy="20">+ addThread()</tspan><tspan x="672" dy="20">+ threadExiting()</tspan><tspan x="672" dy="20">+ transferExecProcessSignals()</tspan><tspan x="672" dy="20">+ removeThread()</tspan><tspan x="672" dy="20">+ getNumThreads()</tspan><tspan x="672" dy="20">+ acquireThread()</tspan><tspan x="672" dy="20">+ acquireProcessSignalThread()</tspan><tspan x="688" dy="20">and 87 more...</tspan><tspan x="672" dy="20">+ currentFilesystemCredentials()</tspan><tspan x="672" dy="20">+ getInit()</tspan><tspan x="672" dy="20">+ setInit()</tspan><tspan x="672" dy="20"># publishAccountIdentity()</tspan><tspan x="672" dy="20"># Process()</tspan><tspan x="672" dy="20"># Process()</tspan><tspan x="672" dy="20"># publish()</tspan><tspan x="672" dy="20"># prepareForDestruction()</tspan><tspan x="672" dy="20"># enableTimeAccountingReports()</tspan><tspan x="672" dy="20"># setTimeAccountingReportInterest()</tspan><tspan x="672" dy="20"># loadFilesystemIds()</tspan><tspan x="672" dy="20"># publishFilesystemIds()</tspan><tspan x="672" dy="20">- finishTermination()</tspan><tspan x="672" dy="20">- Process()</tspan><tspan x="672" dy="20">- operator=()</tspan><tspan x="672" dy="20">- reportTimesUpdated()</tspan><tspan x="672" dy="20">- drainDeferredTimeAccounting()</tspan><tspan x="672" dy="20">- closeDeferredTimeAccounting()</tspan><tspan x="672" dy="20">- totalTime()</tspan><tspan x="672" dy="20">- reportTimeAccounting()</tspan><tspan x="672" dy="20">- queueTimeAccountingReport()</tspan><tspan x="672" dy="20">- processTerminated()</tspan><tspan x="688" dy="20">and 15 more...</tspan></text></g>

<g id="PciTransportCapability"><rect class="lb" x="567" y="4208" width="134" height="94"/><text class="h" x="634" y="4221"><tspan x="634" dy="0">Virtio::PciTransport</tspan><tspan x="634" dy="14">::Capability</tspan></text><line class="sl" x1="567" y1="4242" x2="701" y2="4242"/><text x="573" y="4257"><tspan x="573" dy="0">+ offset</tspan><tspan x="573" dy="20">+ length</tspan></text><line class="sl" x1="567" y1="4282" x2="701" y2="4282"/></g>

<g id="PciFunctionStateState"><rect class="lb" x="1081" y="4700" width="165" height="200"/><text class="h" x="1163" y="4715">PciFunctionState::State</text><line class="sl" x1="1081" y1="4720" x2="1246" y2="4720"/><text x="1087" y="4735"><tspan x="1087" dy="0">+ command</tspan><tspan x="1087" dy="20">+ bars</tspan><tspan x="1087" dy="20">+ barCount</tspan><tspan x="1087" dy="20">+ interruptLine</tspan><tspan x="1087" dy="20">+ interruptPin</tspan><tspan x="1087" dy="20">+ pm</tspan><tspan x="1087" dy="20">+ msi</tspan><tspan x="1087" dy="20">+ msix</tspan></text><line class="sl" x1="1081" y1="4880" x2="1246" y2="4880"/></g>

<g id="VectorDevice"><rect class="b" x="149" y="5435" width="142" height="344"/><text class="h" x="220" y="5450">Vector&lt; Device * &gt;</text><line class="s" x1="149" y1="5455" x2="291" y2="5455"/><text x="155" y="5470"><tspan x="155" dy="0">- m_Size</tspan><tspan x="155" dy="20">- m_Count</tspan><tspan x="155" dy="20">- m_Start</tspan><tspan x="155" dy="20">- m_ReserveFactor</tspan></text><line class="s" x1="149" y1="5535" x2="291" y2="5535"/><text x="155" y="5550"><tspan x="155" dy="0">+ Vector()</tspan><tspan x="155" dy="20">+ Vector()</tspan><tspan x="155" dy="20">+ Vector()</tspan><tspan x="155" dy="20">+ ~Vector()</tspan><tspan x="155" dy="20">+ operator=()</tspan><tspan x="155" dy="20">+ operator[]()</tspan><tspan x="155" dy="20">+ operator[]()</tspan><tspan x="155" dy="20">+ size()</tspan><tspan x="155" dy="20">+ count()</tspan><tspan x="155" dy="20">+ pushBack()</tspan><tspan x="171" dy="20">and 25 more...</tspan><tspan x="155" dy="20">- reserve()</tspan></text></g>

<g id="PciTransport"><rect class="lb" x="839" y="5335" width="156" height="544"/><text class="h" x="917" y="5350">Virtio::PciTransport</text><line class="sl" x1="839" y1="5355" x2="995" y2="5355"/><text x="845" y="5370"><tspan x="845" dy="0">- m_NotifyOffsets</tspan><tspan x="845" dy="20">- m_NotifyMultiplier</tspan><tspan x="845" dy="20">- m_Features</tspan><tspan x="845" dy="20">- m_NumQueues</tspan><tspan x="845" dy="20">- m_PciChanged</tspan><tspan x="845" dy="20">- m_Initialised</tspan><tspan x="845" dy="20">- m_Negotiated</tspan><tspan x="845" dy="20">- m_DmaActive</tspan><tspan x="845" dy="20">- m_UsingMsix</tspan><tspan x="845" dy="20">- MaxQueues</tspan></text><line class="sl" x1="839" y1="5555" x2="995" y2="5555"/><text x="845" y="5570"><tspan x="845" dy="0">+ PciTransport()</tspan><tspan x="845" dy="20">+ ~PciTransport()</tspan><tspan x="845" dy="20">+ initialise()</tspan><tspan x="845" dy="20">+ negotiate()</tspan><tspan x="845" dy="20">+ setupQueue()</tspan><tspan x="845" dy="20">+ registerInterrupt()</tspan><tspan x="845" dy="20">+ ready()</tspan><tspan x="845" dy="20">+ reset()</tspan><tspan x="845" dy="20">+ readIsr()</tspan><tspan x="845" dy="20">+ notify()</tspan><tspan x="861" dy="20">and 6 more...</tspan><tspan x="845" dy="20">- locateCapabilities()</tspan><tspan x="845" dy="20">- readConfig()</tspan><tspan x="845" dy="20">- status()</tspan><tspan x="845" dy="20">- configureMsix()</tspan><tspan x="845" dy="20">- isDmaActive()</tspan></text></g>

<g id="MemoryRegion"><rect class="b" x="1091" y="5385" width="188" height="444"/><text class="h" x="1185" y="5400">MemoryRegion</text><line class="s" x1="1091" y1="5405" x2="1279" y2="5405"/><text x="1097" y="5420"><tspan x="1097" dy="0">- m_VirtualAddress</tspan><tspan x="1097" dy="20">- m_PhysicalAddress</tspan><tspan x="1097" dy="20">- m_Size</tspan><tspan x="1097" dy="20">- m_pName</tspan><tspan x="1097" dy="20">- m_bNonRamMemory</tspan><tspan x="1097" dy="20">- m_bForced</tspan><tspan x="1097" dy="20">- m_bPageBacked</tspan><tspan x="1097" dy="20">- m_bAnonymous</tspan></text><line class="s" x1="1091" y1="5565" x2="1279" y2="5565"/><text x="1097" y="5580"><tspan x="1097" dy="0">+ MemoryRegion()</tspan><tspan x="1097" dy="20">+ ~MemoryRegion()</tspan><tspan x="1097" dy="20">+ free()</tspan><tspan x="1097" dy="20">+ virtualAddress()</tspan><tspan x="1097" dy="20">+ physicalAddress()</tspan><tspan x="1097" dy="20">+ size()</tspan><tspan x="1097" dy="20">+ name()</tspan><tspan x="1097" dy="20">+ operator bool()</tspan><tspan x="1097" dy="20">+ physicalBoundsCheck()</tspan><tspan x="1097" dy="20">+ convertPhysicalPointer()</tspan><tspan x="1113" dy="20">and 6 more...</tspan><tspan x="1097" dy="20">- MemoryRegion()</tspan><tspan x="1097" dy="20">- operator=()</tspan></text></g>

<g id="IrqHandlerBase"><rect class="b" x="657" y="5565" width="149" height="80"/><text class="h" x="731" y="5580">IrqHandlerBase</text><line class="s" x1="657" y1="5585" x2="806" y2="5585"/><line class="s" x1="657" y1="5601" x2="806" y2="5601"/><text x="663" y="5616"><tspan x="663" dy="0"># IrqHandlerBase()</tspan><tspan x="663" dy="20"># ~IrqHandlerBase()</tspan></text></g>

<g id="IrqHandler"><rect class="b" x="627" y="6172" width="209" height="120"/><text class="h" x="731" y="6187">IrqHandler</text><line class="s" x1="627" y1="6192" x2="836" y2="6192"/><line class="s" x1="627" y1="6208" x2="836" y2="6208"/><text x="633" y="6223"><tspan x="633" dy="0">+ IrqHandler()</tspan><tspan x="633" dy="20">+ irq()</tspan><tspan x="633" dy="20">+ resetSpuriousInterrupts()</tspan><tspan x="633" dy="20">+ ~IrqHandler()</tspan></text></g>

<g id="VirtioQueue"><rect class="lb" x="861" y="5972" width="155" height="524"/><text class="h" x="938" y="5987">Virtio::Queue</text><line class="sl" x1="861" y1="5992" x2="1016" y2="5992"/><text x="867" y="6007"><tspan x="867" dy="0">- m_Cookies</tspan><tspan x="867" dy="20">- m_Next</tspan><tspan x="867" dy="20">- m_ChainLength</tspan><tspan x="867" dy="20">- m_FreeHead</tspan><tspan x="867" dy="20">- m_FreeCount</tspan><tspan x="867" dy="20">- m_Depth</tspan><tspan x="867" dy="20">- m_AvailableIndex</tspan><tspan x="867" dy="20">- m_UsedIndex</tspan><tspan x="867" dy="20">- m_Active</tspan><tspan x="867" dy="20">- m_Online</tspan><tspan x="867" dy="20">- m_DmaArmed</tspan><tspan x="867" dy="20">- m_Attached</tspan><tspan x="867" dy="20">- MaxDepth</tspan><tspan x="867" dy="20">- Invalid</tspan></text><line class="sl" x1="861" y1="6272" x2="1016" y2="6272"/><text x="867" y="6287"><tspan x="867" dy="0">+ Queue()</tspan><tspan x="867" dy="20">+ ~Queue()</tspan><tspan x="867" dy="20">+ submit()</tspan><tspan x="867" dy="20">+ pop()</tspan><tspan x="867" dy="20">+ depth()</tspan><tspan x="867" dy="20">+ stop()</tspan><tspan x="867" dy="20">- __attribute__()</tspan><tspan x="867" dy="20">- initialise()</tspan><tspan x="867" dy="20">- descriptorAddress()</tspan><tspan x="867" dy="20">- availableAddress()</tspan><tspan x="867" dy="20">- usedAddress()</tspan></text></g>

<g id="VirtioInputDeviceEvent"><rect class="lb" x="1419" y="5547" width="135" height="114"/><text class="h" x="1486" y="5560"><tspan x="1486" dy="0">VirtioInputDevice::</tspan><tspan x="1486" dy="14">Event</tspan></text><line class="sl" x1="1419" y1="5581" x2="1554" y2="5581"/><text x="1425" y="5596"><tspan x="1425" dy="0">+ type</tspan><tspan x="1425" dy="20">+ code</tspan><tspan x="1425" dy="20">+ value</tspan></text><line class="sl" x1="1419" y1="5641" x2="1554" y2="5641"/></g>

<g id="VirtioInputDeviceSlot"><rect class="lb" x="1389" y="6204" width="160" height="60"/><text class="h" x="1469" y="6219">VirtioInputDevice::Slot</text><line class="sl" x1="1389" y1="6224" x2="1549" y2="6224"/><text x="1395" y="6239">+ physical</text><line class="sl" x1="1389" y1="6244" x2="1549" y2="6244"/></g>

<g id="VirtioInputDevice"><rect class="g" x="920" y="6574" width="163" height="544"/><text class="h" x="1001" y="6589">VirtioInputDevice</text><line class="s" x1="920" y1="6594" x2="1083" y2="6594"/><text x="926" y="6609"><tspan x="926" dy="0">- m_SlotCount</tspan><tspan x="926" dy="20">- m_Irq</tspan><tspan x="926" dy="20">- m_Type</tspan><tspan x="926" dy="20">- m_AbsMinimum</tspan><tspan x="926" dy="20">- m_AbsMaximum</tspan><tspan x="926" dy="20">- m_AbsPosition</tspan><tspan x="926" dy="20">- m_Relative</tspan><tspan x="926" dy="20">- m_Buttons</tspan><tspan x="926" dy="20">- m_KeyDown</tspan><tspan x="926" dy="20">- m_PointerChanged</tspan><tspan x="926" dy="20">- m_Active</tspan><tspan x="926" dy="20">- m_Stopping</tspan><tspan x="926" dy="20">- MaxSlots</tspan><tspan x="926" dy="20">- AbsoluteMaximum</tspan></text><line class="s" x1="920" y1="6874" x2="1083" y2="6874"/><text x="926" y="6889"><tspan x="926" dy="0">+ VirtioInputDevice()</tspan><tspan x="926" dy="20">+ ~VirtioInputDevice()</tspan><tspan x="926" dy="20">+ initialise()</tspan><tspan x="926" dy="20">+ irq()</tspan><tspan x="926" dy="20">- supportsEvent()</tspan><tspan x="926" dy="20">- readAxis()</tspan><tspan x="926" dy="20">- postReceive()</tspan><tspan x="926" dy="20">- handle()</tspan><tspan x="926" dy="20">- reportPointer()</tspan><tspan x="926" dy="20">- scaleAxis()</tspan><tspan x="926" dy="20">- VirtioInputDevice()</tspan><tspan x="926" dy="20">- operator=()</tspan></text></g>
</svg>
